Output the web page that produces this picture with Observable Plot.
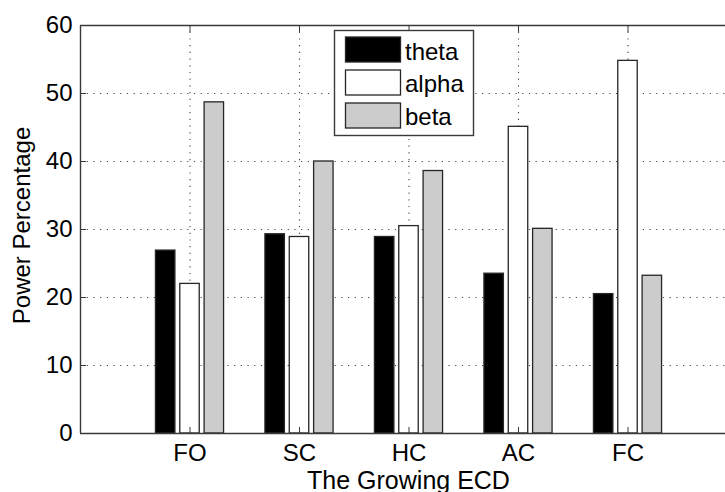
<!DOCTYPE html>
<html>
<head>
<meta charset="utf-8">
<script src="https://cdn.jsdelivr.net/npm/d3@7"></script>
<script src="https://cdn.jsdelivr.net/npm/@observablehq/plot@0.6"></script>
<style>
  html, body { margin: 0; padding: 0; background: #fff; overflow: hidden; }
  #wrap { position: relative; width: 725px; height: 492px; }
  #legend { position: absolute; left: 0; top: 0; }
</style>
</head>
<body>
<div id="wrap"></div>
<script>
const categories = ["FO", "SC", "HC", "AC", "FC"];
const seriesNames = ["theta", "alpha", "beta"];
const theta = [26.9, 29.3, 28.9, 23.5, 20.5];
const alpha = [22.0, 28.9, 30.5, 45.1, 54.8];
const beta  = [48.7, 40.0, 38.6, 30.1, 23.2];
const yTicks = [0, 10, 20, 30, 40, 50, 60];
const fills = {theta: "#000000", alpha: "#ffffff", beta: "#cccccc"};

const seriesValues = [theta, alpha, beta];
const groupWidth = 2 / 3;          // MATLAB grouped bar layout
const barWidth = groupWidth / 3 * 0.8;
const rows = [];
seriesNames.forEach((s, j) => {
  categories.forEach((c, i) => {
    const center = (i + 1) + (j - 1) * groupWidth / 3;
    rows.push({category: c, series: s, value: seriesValues[j][i],
               x1: center - barWidth / 2, x2: center + barWidth / 2});
  });
});
const xTicks = categories.map((c, i) => i + 1);

const font = "'Liberation Sans', Arial, Helvetica, sans-serif";
const axisColor = "#3a3a3a";
const gridStyle = {stroke: "#444", strokeWidth: 1.1, strokeDasharray: "1.2,5.5", strokeOpacity: 1};

const chart = Plot.plot({
  width: 725,
  height: 492,
  marginLeft: 80,
  marginRight: 0,
  marginTop: 25,
  marginBottom: 59,
  style: {fontFamily: font, fontSize: "24px", color: "#000", background: "#fff", overflow: "hidden"},
  x: {type: "linear", domain: [0, 6], range: [80, 737]},
  y: {domain: [0, 60]},
  marks: [
    // grid
    Plot.ruleY(yTicks.filter(d => d > 0 && d < 60), gridStyle),
    Plot.ruleX(xTicks, gridStyle),
    // bars
    Plot.rectY(rows, {x1: "x1", x2: "x2", y1: 0, y2: "value",
      fill: d => fills[d.series], stroke: "#262626", strokeWidth: 1.3}),
    // axes box
    Plot.ruleY([0, 60], {stroke: axisColor, strokeWidth: 1.4}),
    Plot.ruleX([0], {stroke: axisColor, strokeWidth: 1.4}),
    // inward ticks
    Plot.axisY({ticks: yTicks, tickSize: 6, dx: 6, text: null, label: null, stroke: axisColor}),
    Plot.axisX({ticks: xTicks, anchor: "bottom", tickSize: 6, dy: -6, text: null, label: null, stroke: axisColor}),
    Plot.axisX({ticks: xTicks, anchor: "top", tickSize: 6, dy: 6, text: null, label: null, stroke: axisColor}),
    // tick labels
    Plot.axisY({ticks: yTicks, tickSize: 0, tickPadding: 8, label: null, fontSize: 24, tickFormat: d => String(d)}),
    Plot.axisX({ticks: xTicks, anchor: "bottom", tickSize: 0, tickPadding: 10, label: null, fontSize: 24,
      tickFormat: d => categories[d - 1]}),
    // axis titles
    Plot.text(["The Growing ECD"], {frameAnchor: "bottom", textAnchor: "middle", lineAnchor: "bottom",
      dy: 55, dx: 5.5, fontSize: 25, fill: "#000"}),
    Plot.text(["Power Percentage"], {frameAnchor: "left", textAnchor: "middle", rotate: -90, lineAnchor: "middle",
      dx: -58, dy: -4, fontSize: 24, fill: "#000"})
  ]
});

const wrap = document.getElementById("wrap");
wrap.appendChild(chart);

// legend overlay (inside the axes, like MATLAB)
const lg = d3.select(wrap).append("svg")
  .attr("id", "legend")
  .attr("width", 725).attr("height", 492)
  .style("pointer-events", "none");
lg.append("rect")
  .attr("x", 334.5).attr("y", 30.5).attr("width", 139).attr("height", 105)
  .attr("fill", "#fff").attr("stroke", axisColor).attr("stroke-width", 1.4);
seriesNames.forEach((s, j) => {
  lg.append("rect")
    .attr("x", 345.5).attr("y", 37 + j * 33).attr("width", 55).attr("height", 25)
    .attr("fill", fills[s]).attr("stroke", "#262626").attr("stroke-width", 1.3);
  lg.append("text")
    .attr("x", 405).attr("y", 59.5 + j * 32.5)
    .attr("font-family", font).attr("font-size", 24).attr("fill", "#000")
    .text(s);
});
</script>
</body>
</html>
